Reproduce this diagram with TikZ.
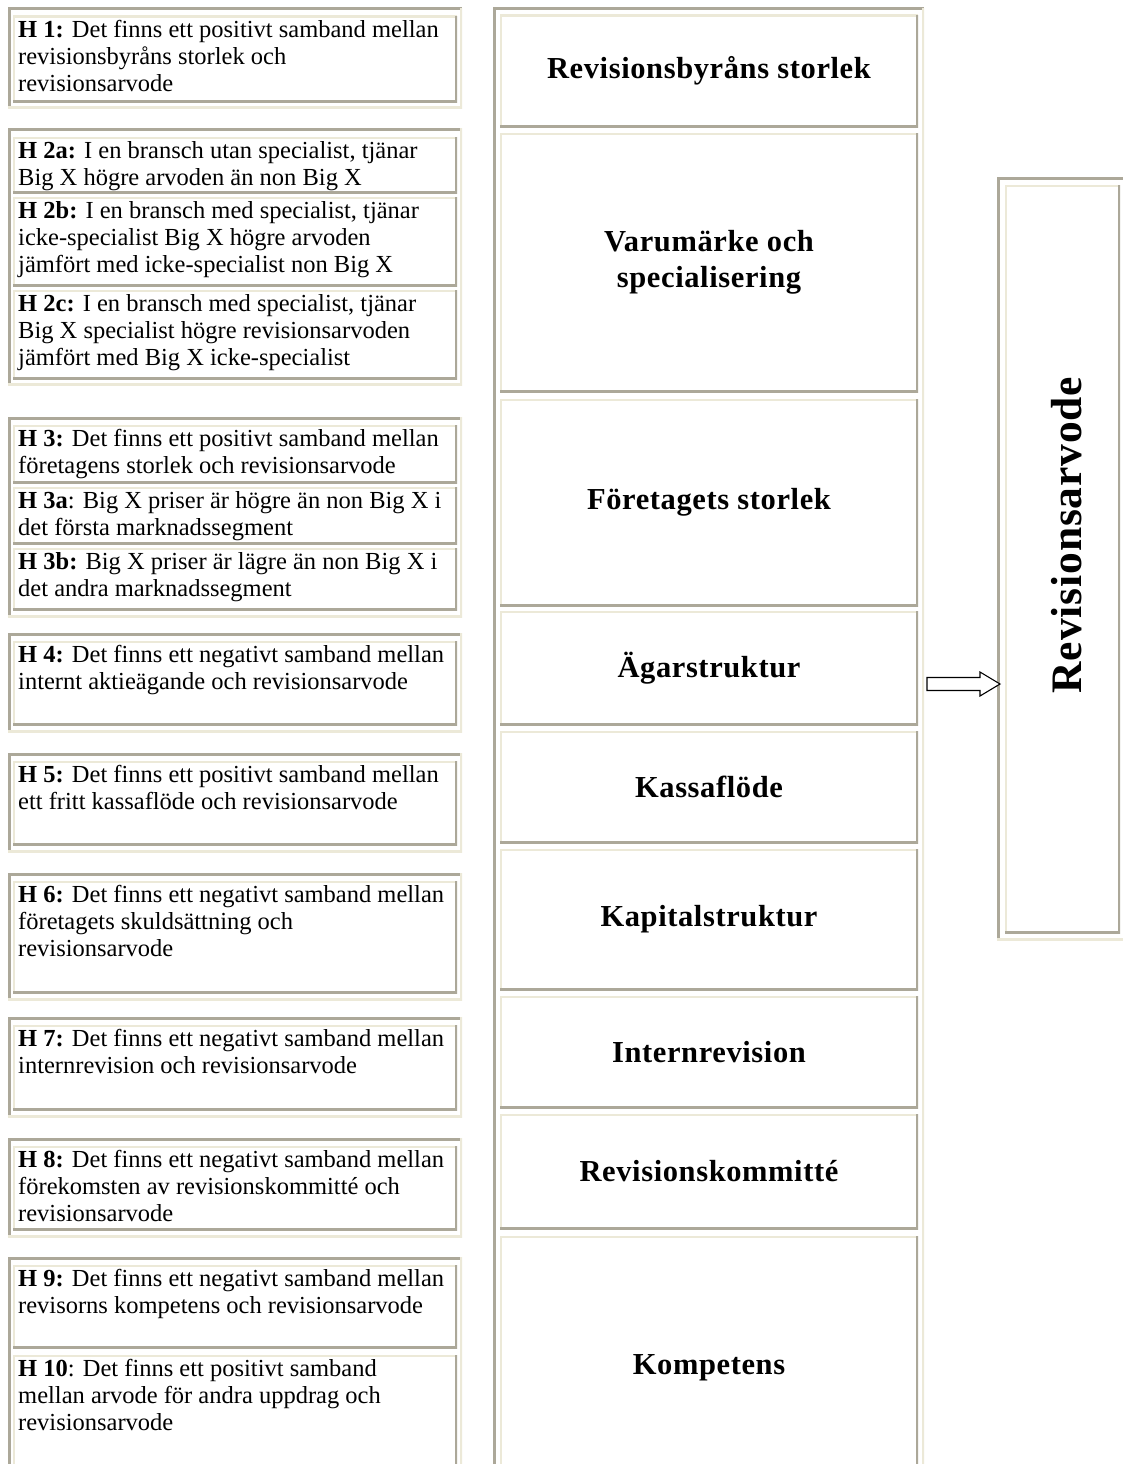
\documentclass[tikz,border=0pt]{standalone}
\usepackage{fontspec}
\setmainfont{Liberation Serif}
\usetikzlibrary{calc}
\definecolor{bdark}{HTML}{ACA899}
\definecolor{blight}{HTML}{ECE9D8}
\newcommand\bx[6]{\node[#2, minimum width={(#5-#3)*1pt}, minimum height={(#6-#4)*1pt}] (#1) at (#3,#4) {};}
\begin{document}
\begin{tikzpicture}[x=1pt,y=-1pt,
  tbl/.style={fill=white, inner sep=0pt, outer sep=0pt, anchor=north west, path picture={
    \draw[bdark, line width=5pt] (path picture bounding box.south west) -- (path picture bounding box.north west) -- (path picture bounding box.north east);
    \draw[blight, line width=5pt] (path picture bounding box.north east) -- (path picture bounding box.south east) -- (path picture bounding box.south west);}},
  cellb/.style={fill=white, inner sep=0pt, outer sep=0pt, anchor=north west, path picture={
    \draw[blight, line width=4pt] (path picture bounding box.south west) -- (path picture bounding box.north west) -- (path picture bounding box.north east);
    \draw[bdark, line width=4.5pt] (path picture bounding box.north east) -- (path picture bounding box.south east) -- (path picture bounding box.south west);}},
  htext/.style={font=\fontsize{24.5}{27}\selectfont, align=left, inner sep=0pt, anchor=north west},
  mtext/.style={font=\fontsize{30.5}{36}\selectfont\bfseries\addfontfeatures{LetterSpace=2}, align=center, inner sep=0pt},
  rtext/.style={font=\fontsize{43.5}{46}\selectfont\bfseries\addfontfeatures{LetterSpace=2}, inner sep=0pt, rotate=90},
  arrowline/.style={draw=black, line width=1.1pt, fill=white, line join=miter}
]
\useasboundingbox[fill=white] (0,0) rectangle (1122,1464);

% ---------- left column ----------
\bx{g1}{tbl}{8}{8}{462}{108}
\bx{c1}{cellb}{13}{16}{457}{102}

\bx{g2}{tbl}{8}{128}{462}{385}
\bx{c2a}{cellb}{13}{137}{457}{193}
\bx{c2b}{cellb}{13}{197}{457}{286}
\bx{c2c}{cellb}{13}{290}{457}{379}

\bx{g3}{tbl}{8}{417}{462}{617}
\bx{c3}{cellb}{13}{425}{457}{483}
\bx{c3a}{cellb}{13}{487}{457}{544}
\bx{c3b}{cellb}{13}{548}{457}{610}

\bx{g4}{tbl}{8}{633}{462}{732}
\bx{c4}{cellb}{13}{641}{457}{725}

\bx{g5}{tbl}{8}{753}{462}{852}
\bx{c5}{cellb}{13}{761}{457}{845}

\bx{g6}{tbl}{8}{873}{462}{1000}
\bx{c6}{cellb}{13}{881}{457}{993}

\bx{g7}{tbl}{8}{1017}{462}{1117}
\bx{c7}{cellb}{13}{1025}{457}{1110}

\bx{g8}{tbl}{8}{1138}{462}{1237}
\bx{c8}{cellb}{13}{1146}{457}{1230}

\bx{g9}{tbl}{8}{1257}{462}{1520}
\bx{c9}{cellb}{13}{1265}{457}{1348}
\bx{c10}{cellb}{13}{1355}{457}{1510}

\node[htext] (t1) at ([xshift=5pt,yshift=-4pt]c1.north west) {\textbf{H 1:} Det finns ett positivt samband mellan\\revisionsbyråns storlek och\\revisionsarvode};
\node[htext] (t2a) at ([xshift=5pt,yshift=-4pt]c2a.north west) {\textbf{H 2a:} I en bransch utan specialist, tjänar\\Big X högre arvoden än non Big X};
\node[htext] (t2b) at ([xshift=5pt,yshift=-4pt]c2b.north west) {\textbf{H 2b:} I en bransch med specialist, tjänar\\icke-specialist Big X högre arvoden\\jämfört med icke-specialist non Big X};
\node[htext] (t2c) at ([xshift=5pt,yshift=-4pt]c2c.north west) {\textbf{H 2c:} I en bransch med specialist, tjänar\\Big X specialist högre revisionsarvoden\\jämfört med Big X icke-specialist};
\node[htext] (t3) at ([xshift=5pt,yshift=-4pt]c3.north west) {\textbf{H 3:} Det finns ett positivt samband mellan\\företagens storlek och revisionsarvode};
\node[htext] (t3a) at ([xshift=5pt,yshift=-4pt]c3a.north west) {\textbf{H 3a}: Big X priser är högre än non Big X i\\det första marknadssegment};
\node[htext] (t3b) at ([xshift=5pt,yshift=-4pt]c3b.north west) {\textbf{H 3b:} Big X priser är lägre än non Big X i\\det andra marknadssegment};
\node[htext] (t4) at ([xshift=5pt,yshift=-4pt]c4.north west) {\textbf{H 4:} Det finns ett negativt samband mellan\\internt aktieägande och revisionsarvode};
\node[htext] (t5) at ([xshift=5pt,yshift=-4pt]c5.north west) {\textbf{H 5:} Det finns ett positivt samband mellan\\ett fritt kassaflöde och revisionsarvode};
\node[htext] (t6) at ([xshift=5pt,yshift=-4pt]c6.north west) {\textbf{H 6:} Det finns ett negativt samband mellan\\företagets skuldsättning och\\revisionsarvode};
\node[htext] (t7) at ([xshift=5pt,yshift=-4pt]c7.north west) {\textbf{H 7:} Det finns ett negativt samband mellan\\internrevision och revisionsarvode};
\node[htext] (t8) at ([xshift=5pt,yshift=-4pt]c8.north west) {\textbf{H 8:} Det finns ett negativt samband mellan\\förekomsten av revisionskommitté och\\revisionsarvode};
\node[htext] (t9) at ([xshift=5pt,yshift=-4pt]c9.north west) {\textbf{H 9:} Det finns ett negativt samband mellan\\revisorns kompetens och revisionsarvode};
\node[htext] (t10) at ([xshift=5pt,yshift=-4pt]c10.north west) {\textbf{H 10}: Det finns ett positivt samband\\mellan arvode för andra uppdrag och\\revisionsarvode};

% ---------- middle column ----------
\bx{mid}{tbl}{493}{8}{924}{1520}
\bx{m1}{cellb}{500}{15}{918}{127}
\bx{m2}{cellb}{500}{133}{918}{392}
\bx{m3}{cellb}{500}{399}{918}{606}
\bx{m4}{cellb}{500}{611}{918}{725}
\bx{m5}{cellb}{500}{731}{918}{843}
\bx{m6}{cellb}{500}{849}{918}{990}
\bx{m7}{cellb}{500}{996}{918}{1108}
\bx{m8}{cellb}{500}{1114}{918}{1229}
\bx{m9}{cellb}{500}{1236}{918}{1500}

\node[mtext] (mt1) at (m1) {Revisionsbyråns storlek};
\node[mtext] (mt2) at (m2) {Varumärke och\\specialisering};
\node[mtext] (mt3) at (m3) {Företagets storlek};
\node[mtext] (mt4) at (m4) {Ägarstruktur};
\node[mtext] (mt5) at (m5) {Kassaflöde};
\node[mtext] (mt6) at (m6) {Kapitalstruktur};
\node[mtext] (mt7) at (m7) {Internrevision};
\node[mtext] (mt8) at (m8) {Revisionskommitté};
\node[mtext] (mt9) at (m9) {Kompetens};

% ---------- right column ----------
\bx{rt}{tbl}{997}{177}{1130}{940}
\bx{rc}{cellb}{1005}{185}{1120}{933}
\node[rtext] (rtt) at (1067,535) {Revisionsarvode};

% ---------- arrow ----------
\coordinate (as) at ([xshift=3pt]mid.east |- 0,684);
\coordinate (ae) at ([xshift=3pt]rt.west |- 0,684);
\draw[arrowline] ($(as)+(0,-6.5)$) -- ($(ae)+(-20,-6.5)$) -- ($(ae)+(-20,-12)$) -- (ae)
  -- ($(ae)+(-20,12)$) -- ($(ae)+(-20,6.5)$) -- ($(as)+(0,6.5)$) -- cycle;
\end{tikzpicture}
\end{document}
